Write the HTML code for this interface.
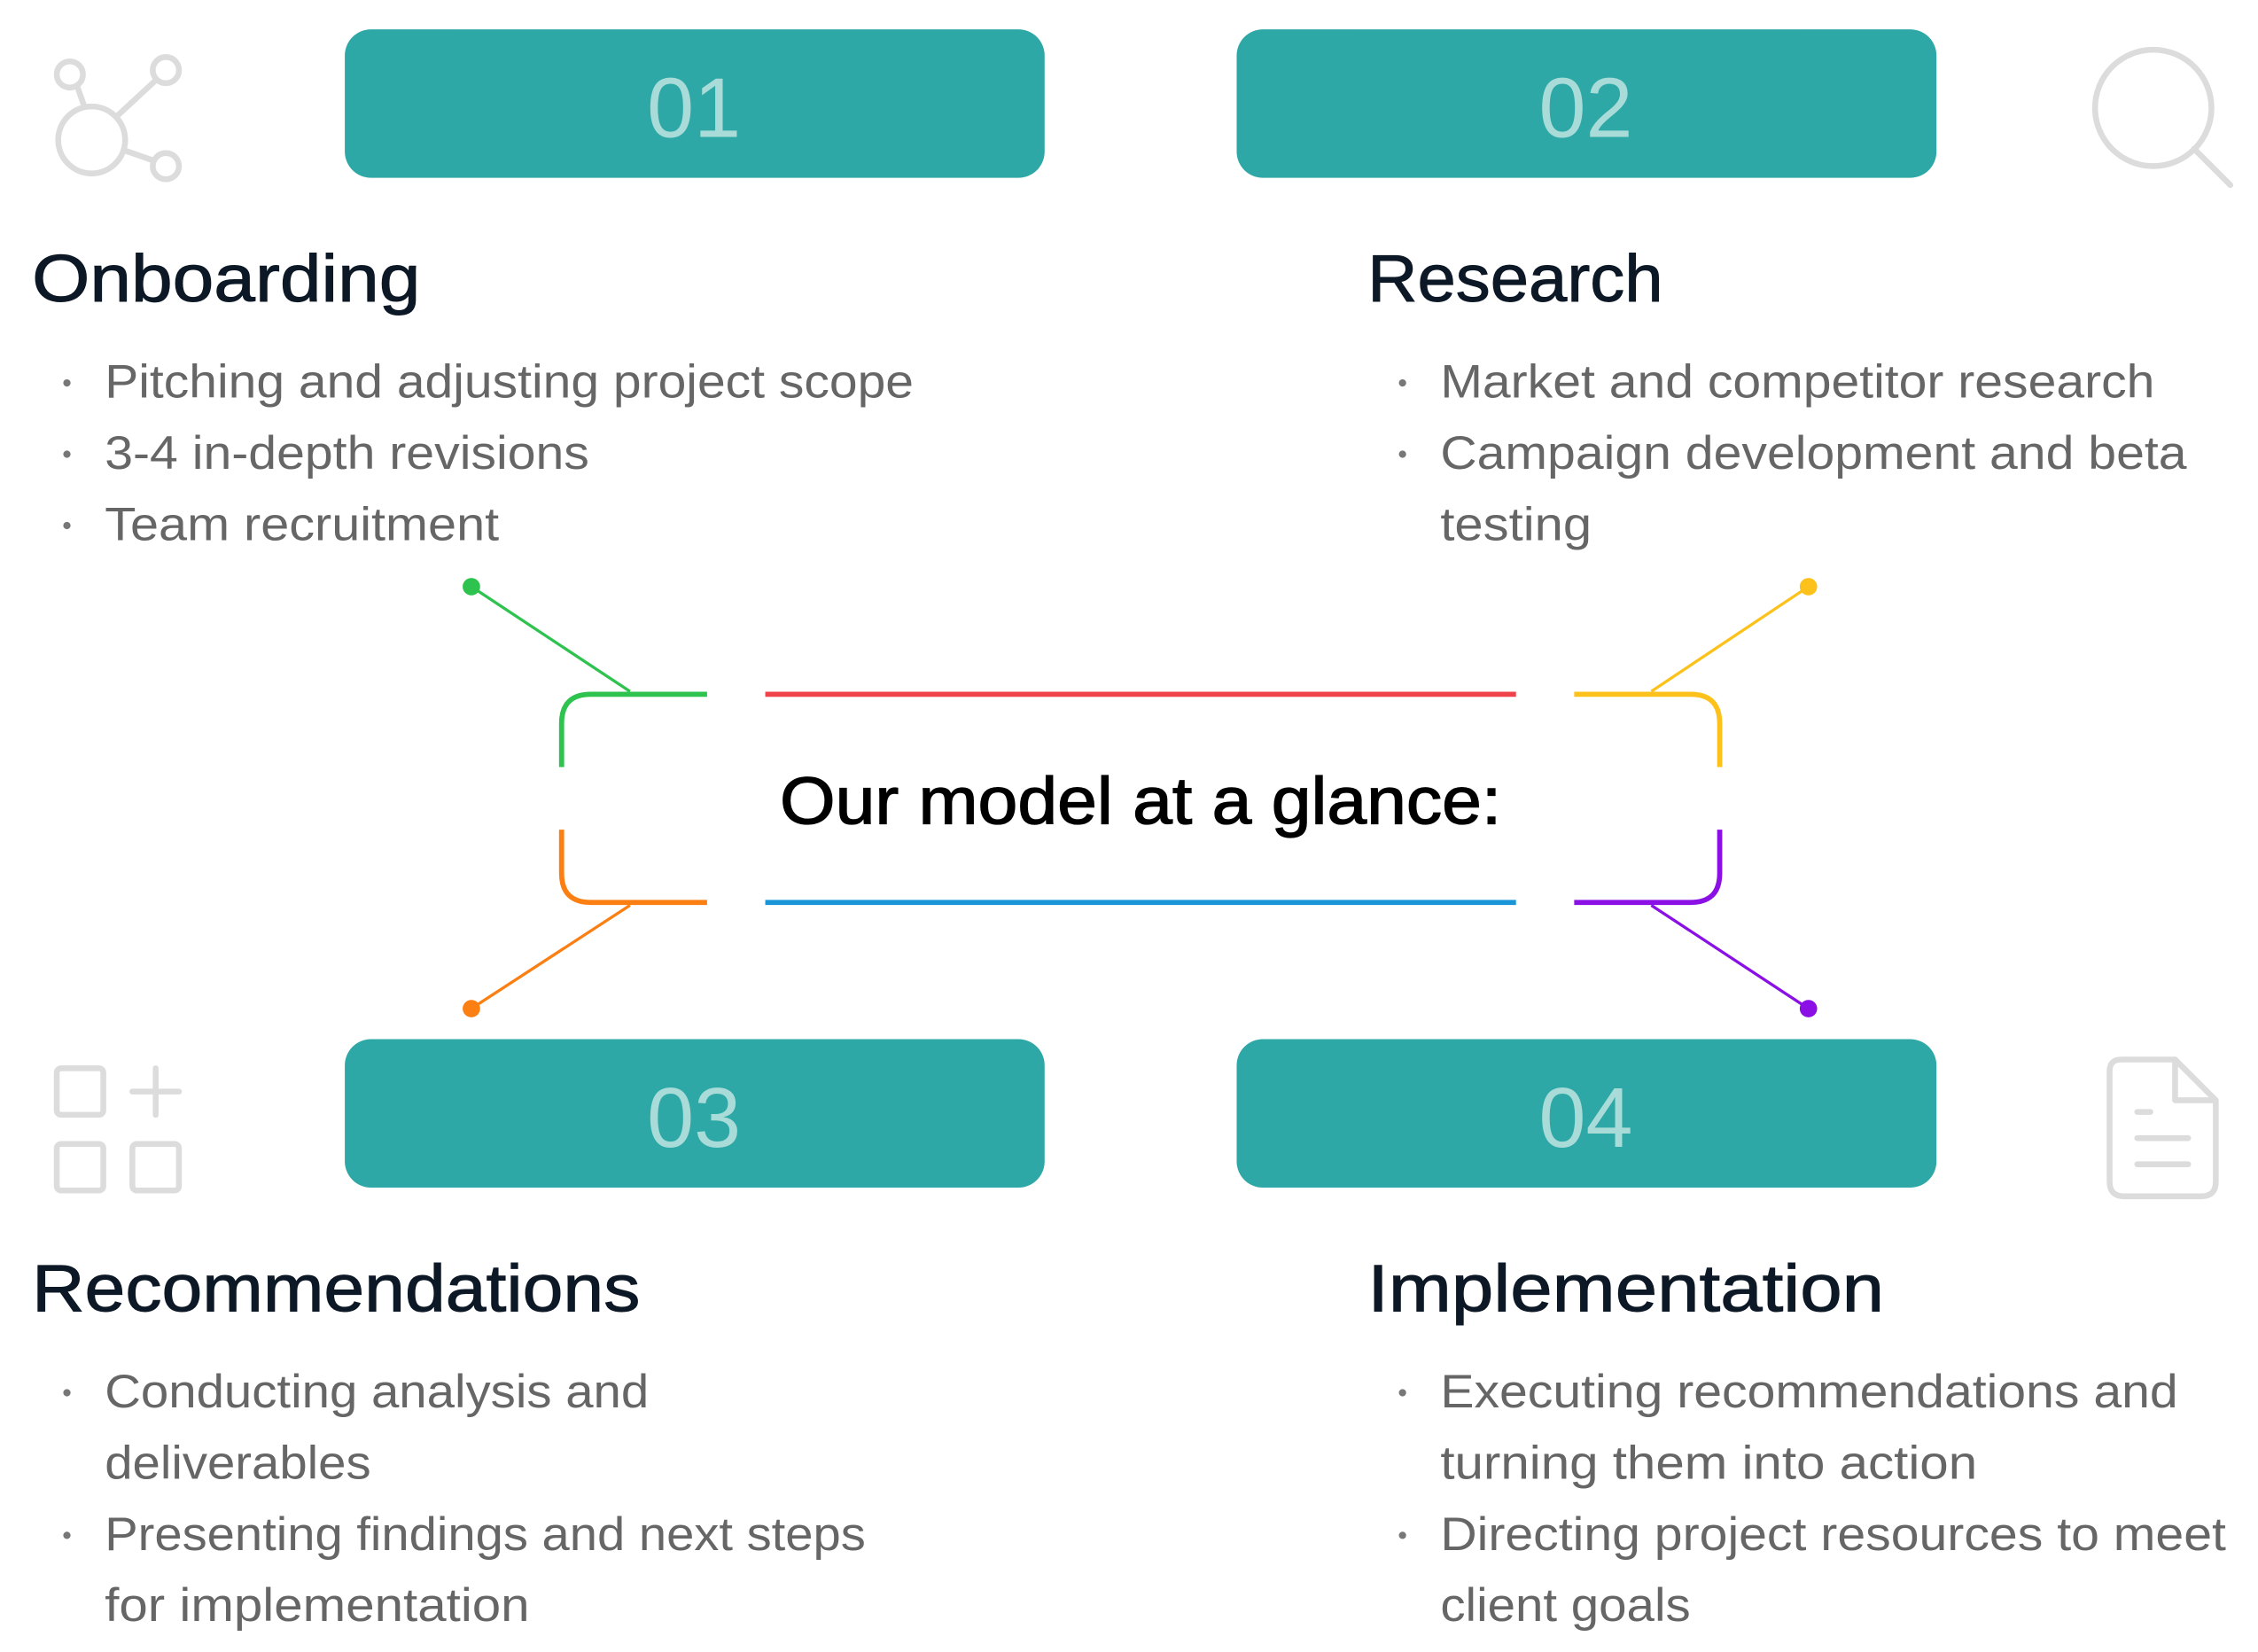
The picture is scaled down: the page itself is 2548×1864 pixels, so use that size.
<!DOCTYPE html>
<html><head><meta charset="utf-8"><style>
html,body{margin:0;padding:0;background:#fff;}
svg{display:block;}
text{font-family:"Liberation Sans",sans-serif;}
</style></head><body>
<svg width="2548" height="1864" viewBox="0 0 1552 1135" xmlns="http://www.w3.org/2000/svg">
<g fill="#2ea8a6">
<rect x="237" y="20" width="481" height="102" rx="18"/>
<rect x="850" y="20" width="481" height="102" rx="18"/>
<rect x="237" y="714" width="481" height="102" rx="18"/>
<rect x="850" y="714" width="481" height="102" rx="18"/>
</g>
<g fill="#a9dcd8" font-size="58" text-anchor="middle">
<text x="477" y="94">01</text>
<text x="1090" y="94">02</text>
<text x="477" y="788">03</text>
<text x="1090" y="788">04</text>
</g>
<g fill="#0d1826" font-size="46" stroke="#0d1826" stroke-width="0.6">
<text x="22" y="207" textLength="267" lengthAdjust="spacingAndGlyphs">Onboarding</text>
<text x="940" y="207" textLength="203" lengthAdjust="spacingAndGlyphs">Research</text>
<text x="22" y="901" textLength="418" lengthAdjust="spacingAndGlyphs">Recommendations</text>
<text x="940" y="901" textLength="355" lengthAdjust="spacingAndGlyphs">Implementation</text>
</g>
<g fill="#666" font-size="32">
<text x="72" y="273" textLength="556" lengthAdjust="spacingAndGlyphs">Pitching and adjusting project scope</text>
<text x="72" y="322" textLength="333" lengthAdjust="spacingAndGlyphs">3-4 in-depth revisions</text>
<text x="72" y="371" textLength="271" lengthAdjust="spacingAndGlyphs">Team recruitment</text>
<text x="990" y="273" textLength="491" lengthAdjust="spacingAndGlyphs">Market and competitor research</text>
<text x="990" y="322" textLength="513" lengthAdjust="spacingAndGlyphs">Campaign development and beta</text>
<text x="990" y="371" textLength="104" lengthAdjust="spacingAndGlyphs">testing</text>
<text x="72" y="967" textLength="374" lengthAdjust="spacingAndGlyphs">Conducting analysis and</text>
<text x="72" y="1016" textLength="183" lengthAdjust="spacingAndGlyphs">deliverables</text>
<text x="72" y="1065" textLength="523" lengthAdjust="spacingAndGlyphs">Presenting findings and next steps</text>
<text x="72" y="1114" textLength="292" lengthAdjust="spacingAndGlyphs">for implementation</text>
<text x="990" y="967" textLength="507" lengthAdjust="spacingAndGlyphs">Executing recommendations and</text>
<text x="990" y="1016" textLength="369" lengthAdjust="spacingAndGlyphs">turning them into action</text>
<text x="990" y="1065" textLength="540" lengthAdjust="spacingAndGlyphs">Directing project resources to meet</text>
<text x="990" y="1114" textLength="172" lengthAdjust="spacingAndGlyphs">client goals</text>
</g>
<g fill="#777">
<circle cx="46" cy="263" r="2.5"/><circle cx="46" cy="312" r="2.5"/><circle cx="46" cy="361" r="2.5"/>
<circle cx="964" cy="263" r="2.5"/><circle cx="964" cy="312" r="2.5"/>
<circle cx="46" cy="957" r="2.5"/><circle cx="46" cy="1055" r="2.5"/>
<circle cx="964" cy="957" r="2.5"/><circle cx="964" cy="1055" r="2.5"/>
</g>
<text x="536" y="566" font-size="46" fill="#000" stroke="#000" stroke-width="0.8" textLength="496" lengthAdjust="spacingAndGlyphs">Our model at a glance:</text>
<g fill="none" stroke-width="3.5">
<line x1="526" y1="477" x2="1042" y2="477" stroke="#f0424a"/>
<line x1="526" y1="620" x2="1042" y2="620" stroke="#1a96d8"/>
<path d="M486 477 H406 Q386 477 386 497 V527" stroke="#2ec24f"/>
<path d="M386 570 V600 Q386 620 406 620 H486" stroke="#fb7f12"/>
<path d="M1082 477 H1162 Q1182 477 1182 497 V527" stroke="#fcc21b"/>
<path d="M1182 570 V600 Q1182 620 1162 620 H1082" stroke="#8a10e6"/>
<line x1="433" y1="475" x2="324" y2="403" stroke="#2ec24f" stroke-width="2"/>
<line x1="1135" y1="475" x2="1243" y2="403" stroke="#fcc21b" stroke-width="2"/>
<line x1="433" y1="622" x2="324" y2="693" stroke="#fb7f12" stroke-width="2"/>
<line x1="1135" y1="622" x2="1243" y2="693" stroke="#8a10e6" stroke-width="2"/>
</g>
<circle cx="324" cy="403" r="6" fill="#2ec24f"/>
<circle cx="1243" cy="403" r="6" fill="#fcc21b"/>
<circle cx="324" cy="693" r="6" fill="#fb7f12"/>
<circle cx="1243" cy="693" r="6" fill="#8a10e6"/>
<g fill="none" stroke="#dcdcdc" stroke-width="4" stroke-linecap="round" stroke-linejoin="round">
<circle cx="48" cy="51" r="9"/><circle cx="114" cy="48" r="9"/><circle cx="114" cy="114" r="9"/>
<circle cx="63" cy="96" r="23"/>
<line x1="53" y1="59" x2="58" y2="73"/><line x1="107" y1="55" x2="80" y2="80"/><line x1="85" y1="103" x2="105" y2="110"/>
<circle cx="1480" cy="74" r="40"/><line x1="1508" y1="102" x2="1533" y2="127"/>
<rect x="39" y="734" width="32" height="32" rx="3"/>
<rect x="39" y="786" width="32" height="32" rx="3"/>
<rect x="91" y="786" width="32" height="32" rx="3"/>
<line x1="107" y1="734" x2="107" y2="766"/><line x1="91" y1="750" x2="123" y2="750"/>
<path d="M1458 728 H1495 L1523 756 V812 Q1523 822 1513 822 H1460 Q1450 822 1450 812 V736 Q1450 728 1458 728 Z"/>
<path d="M1495 728 V756 H1523"/>
<line x1="1469" y1="764" x2="1478" y2="764"/><line x1="1469" y1="782" x2="1504" y2="782"/><line x1="1469" y1="800" x2="1504" y2="800"/>
</g>
</svg>
</body></html>
